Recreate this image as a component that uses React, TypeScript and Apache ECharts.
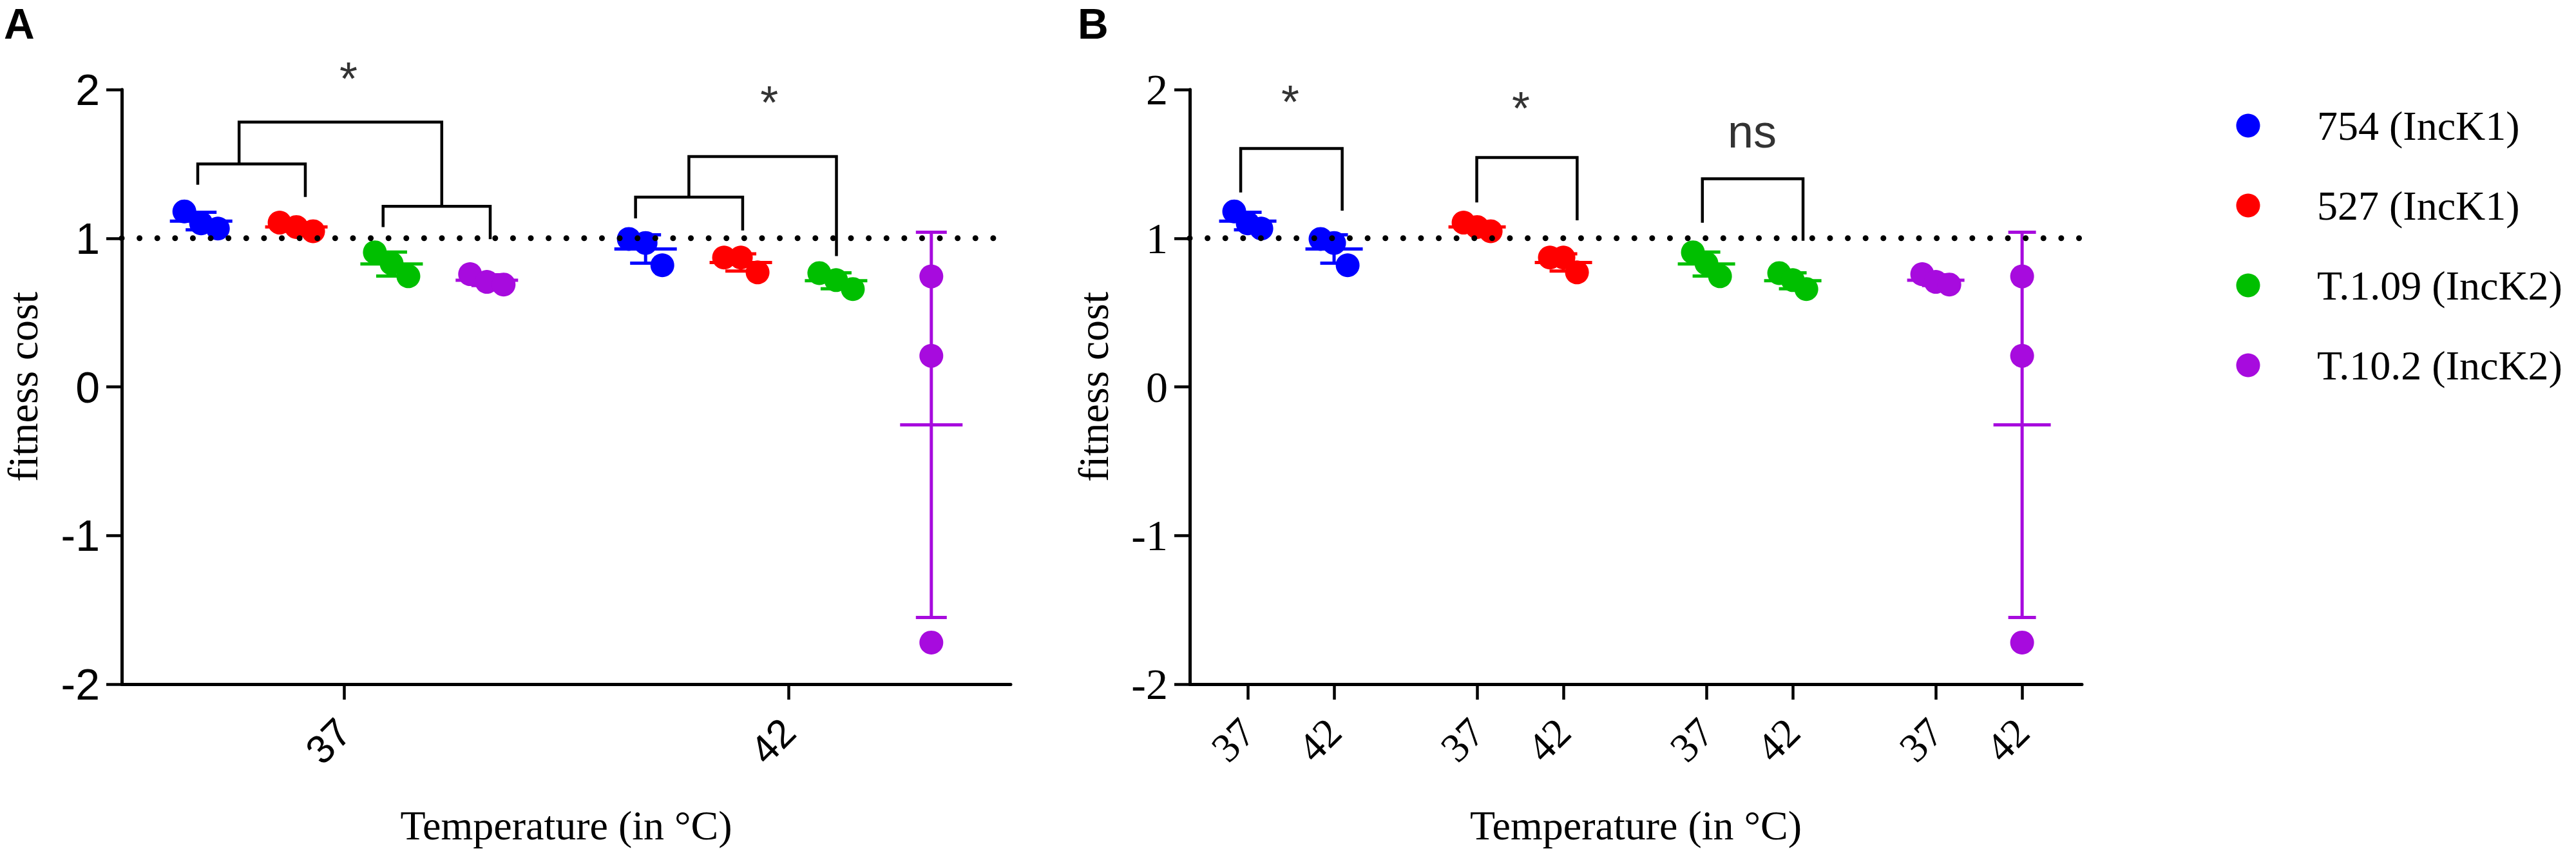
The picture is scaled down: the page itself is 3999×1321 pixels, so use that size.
import React, { useEffect, useRef } from "react";
import * as echarts from "echarts";

// ---------- data ----------
const temperatures = ["37", "42"];
const strains = ["754 (IncK1)", "527 (IncK1)", "T.1.09 (IncK2)", "T.10.2 (IncK2)"];
const strainColors = ["#0000FF", "#FF0000", "#00BF00", "#A70BDE"];

// fitness cost replicates (3 per strain and temperature)
const strain754_37 = [1.18, 1.1, 1.065];
const strain754_42 = [0.995, 0.968, 0.818];
const strain527_37 = [1.105, 1.075, 1.047];
const strain527_42 = [0.87, 0.87, 0.77];
const strainT109_37 = [0.905, 0.83, 0.744];
const strainT109_42 = [0.765, 0.718, 0.658];
const strainT102_37 = [0.758, 0.706, 0.688];
const strainT102_42 = [0.743, 0.209, -1.72];

const replicates = [
  [strain754_37, strain754_42],
  [strain527_37, strain527_42],
  [strainT109_37, strainT109_42],
  [strainT102_37, strainT102_42],
];

const yTickValues = [-2, -1, 0, 1, 2];
const referenceValue = 1;

// significance brackets in axis units: [xLeft, xRight, yTop, yLeftFoot, yRightFoot]
const bracketsA = [
  [-0.329, -0.087, 1.5, 1.36, 1.277],
  [0.088, 0.329, 1.215, 1.075, 0.994],
  [-0.236, 0.22, 1.781, 1.5, 1.215],
  [0.656, 0.897, 1.276, 1.133, 1.052],
  [0.776, 1.108, 1.549, 1.276, 0.88],
];
const bracketsB = [
  [-0.082, 1.094, 1.603, 1.308, 1.185],
  [2.653, 3.816, 1.543, 1.24, 1.12],
  [5.267, 6.433, 1.4, 1.104, 0.983],
];
const significanceA: [string, number, number][] = [
  ["*", 0.01, 2.073],
  ["*", 0.957, 1.912],
];
const significanceB: [string, number, number][] = [
  ["*", 0.493, 1.917],
  ["*", 3.164, 1.874],
  ["ns", 5.843, 1.72],
];

// ---------- helpers ----------
const SANS = '"Liberation Sans", Arial, Helvetica, sans-serif';
const SERIF = '"Liberation Serif", "Times New Roman", Times, serif';

const mean = (a: number[]) => a.reduce((s, v) => s + v, 0) / a.length;
const sd = (a: number[]) => {
  const m = mean(a);
  return Math.sqrt(a.reduce((s, v) => s + (v - m) * (v - m), 0) / (a.length - 1));
};

const groupStepB = 2.657;
const tickPosB: number[] = [];
strains.forEach((_, s) => temperatures.forEach((__, t) => tickPosB.push(s * groupStepB + t)));

const panels = [
  {
    grid: { left: 189, top: 139, width: 1380, height: 923 },
    xMin: -0.5,
    xMax: 1.5,
    ticks: [0, 1],
    label: (v: number) => temperatures[Math.round(v)],
    pos: (s: number, t: number) => t + (s - 1.5) * 0.2143,
    jitter: 0.0377,
    meanW: 97,
    capW: 48,
    font: SANS,
    xLabelSize: 62,
    yLabelSize: 68,
    yNameGap: 121,
    brackets: bracketsA,
    marks: significanceA,
  },
  {
    grid: { left: 1847, top: 139, width: 1385, height: 923 },
    xMin: -0.672,
    xMax: 9.664,
    ticks: tickPosB,
    label: (v: number) => {
      let best = 0;
      tickPosB.forEach((p, i) => {
        if (Math.abs(p - v) < Math.abs(tickPosB[best] - v)) best = i;
      });
      return temperatures[best % 2];
    },
    pos: (s: number, t: number) => s * groupStepB + t,
    jitter: 0.157,
    meanW: 89,
    capW: 43,
    font: SERIF,
    xLabelSize: 64,
    yLabelSize: 68,
    yNameGap: 117,
    brackets: bracketsB,
    marks: significanceB,
  },
];

// legend layout (pixels)
const legendLayout = { markerX: 3490, textX: 3597, firstY: 195, stepY: 124, radius: 18.5, fontSize: 64 };

function errRenderer(color: string, meanW: number, capW: number) {
  return (params: any, api: any) => {
    const x = api.value(0);
    const m = api.value(1);
    const d = api.value(2);
    const pm = api.coord([x, m]);
    const pt = api.coord([x, m + d]);
    const pb = api.coord([x, m - d]);
    const style = { stroke: color, lineWidth: 5, fill: "none" };
    return {
      type: "group",
      children: [
        { type: "line", shape: { x1: pm[0], y1: pt[1], x2: pm[0], y2: pb[1] }, style },
        { type: "line", shape: { x1: pm[0] - capW / 2, y1: pt[1], x2: pm[0] + capW / 2, y2: pt[1] }, style },
        { type: "line", shape: { x1: pm[0] - capW / 2, y1: pb[1], x2: pm[0] + capW / 2, y2: pb[1] }, style },
        { type: "line", shape: { x1: pm[0] - meanW / 2, y1: pm[1], x2: pm[0] + meanW / 2, y2: pm[1] }, style },
      ],
    };
  };
}

function buildOption() {
  const grids: any[] = [];
  const xAxes: any[] = [];
  const yAxes: any[] = [];
  const series: any[] = [];

  panels.forEach((p, pi) => {
    grids.push({ ...p.grid, containLabel: false, outerBoundsMode: "none" });
    xAxes.push({
      type: "value",
      gridIndex: pi,
      min: p.xMin,
      max: p.xMax,
      axisLine: { show: true, onZero: false, lineStyle: { color: "#000", width: 5 } },
      axisTick: { show: true, customValues: p.ticks, length: 24, lineStyle: { color: "#000", width: 4.5 } },
      axisLabel: {
        show: true,
        customValues: p.ticks,
        formatter: (v: number) => p.label(v),
        rotate: 45,
        margin: 64,
        fontFamily: p.font,
        fontSize: p.xLabelSize,
        color: "#000",
      },
      splitLine: { show: false },
      name: "Temperature (in °C)",
      nameLocation: "middle",
      nameGap: 187,
      nameTextStyle: { fontFamily: SERIF, fontSize: 64, color: "#000" },
    });
    yAxes.push({
      type: "value",
      gridIndex: pi,
      min: yTickValues[0],
      max: yTickValues[yTickValues.length - 1],
      interval: 1,
      axisLine: { show: true, onZero: false, lineStyle: { color: "#000", width: 5 } },
      axisTick: { show: true, length: 24, lineStyle: { color: "#000", width: 4.5 } },
      axisLabel: {
        margin: 34,
        fontFamily: p.font,
        fontSize: p.yLabelSize,
        color: "#000",
      },
      splitLine: { show: false },
      name: "fitness cost",
      nameLocation: "middle",
      nameRotate: 90,
      nameGap: p.yNameGap,
      nameTextStyle: { fontFamily: SERIF, fontSize: 66, color: "#000" },
    });

    // error bars (mean ± SD) per strain
    strains.forEach((name, s) => {
      const errData = temperatures.map((_, t) => {
        const vals = replicates[s][t];
        return [p.pos(s, t), mean(vals), sd(vals)];
      });
      series.push({
        type: "custom",
        name: "sd-" + name + "-" + pi,
        xAxisIndex: pi,
        yAxisIndex: pi,
        data: errData,
        renderItem: errRenderer(strainColors[s], p.meanW, p.capW),
        silent: true,
        z: 2,
      });
    });

    // replicate points
    strains.forEach((name, s) => {
      const pts: number[][] = [];
      temperatures.forEach((_, t) => {
        const vals = replicates[s][t];
        const spread = Math.max(...vals) - Math.min(...vals);
        const jit = spread < 0.5 ? p.jitter : 0;
        const order = vals.map((v, i) => i).sort((a, b) => vals[b] - vals[a]);
        order.forEach((idx, rank) => {
          pts.push([p.pos(s, t) + (rank - 1) * jit, vals[idx]]);
        });
      });
      series.push({
        type: "scatter",
        name,
        xAxisIndex: pi,
        yAxisIndex: pi,
        data: pts,
        symbol: "circle",
        symbolSize: 37,
        itemStyle: { color: strainColors[s], opacity: 1 },
        clip: false,
        z: 3,
      });
    });

    // significance brackets
    p.brackets.forEach((b, bi) => {
      series.push({
        type: "line",
        name: "bracket-" + pi + "-" + bi,
        xAxisIndex: pi,
        yAxisIndex: pi,
        data: [
          [b[0], b[3]],
          [b[0], b[2]],
          [b[1], b[2]],
          [b[1], b[4]],
        ],
        symbol: "none",
        silent: true,
        lineStyle: { color: "#000", width: 4.5, cap: "butt", join: "miter" },
        z: 4,
      });
    });

    // reference line at fitness cost = 1
    series.push({
      type: "line",
      name: "ref-" + pi,
      xAxisIndex: pi,
      yAxisIndex: pi,
      data: [
        [p.xMin, referenceValue],
        [p.xMax, referenceValue],
      ],
      symbol: "none",
      silent: true,
      lineStyle: { color: "#000", width: 9, type: [0.01, 27.6], cap: "round" },
      z: 5,
    });

    // significance labels
    series.push({
      type: "scatter",
      name: "sig-" + pi,
      xAxisIndex: pi,
      yAxisIndex: pi,
      data: p.marks.map((m) => ({ value: [m[1], m[2]], label: { formatter: m[0] } })),
      symbol: "circle",
      symbolSize: 1,
      itemStyle: { color: "rgba(0,0,0,0)" },
      clip: false,
      silent: true,
      label: {
        show: true,
        position: "inside",
        fontFamily: SANS,
        fontSize: 72,
        color: "#000",
      },
      z: 6,
    });
  });

  // legend drawn as graphic items (marker + label per strain)
  const legendItems: any[] = [];
  strains.forEach((name, s) => {
    const cy = legendLayout.firstY + s * legendLayout.stepY;
    legendItems.push({
      type: "circle",
      shape: { cx: legendLayout.markerX, cy, r: legendLayout.radius },
      style: { fill: strainColors[s] },
      silent: true,
    });
    legendItems.push({
      type: "text",
      x: legendLayout.textX,
      y: cy,
      style: {
        text: name,
        fontFamily: SERIF,
        fontSize: legendLayout.fontSize,
        fill: "#000",
        align: "left",
        verticalAlign: "middle",
      },
      silent: true,
    });
  });

  return {
    animation: false,
    backgroundColor: "#ffffff",
    grid: grids,
    xAxis: xAxes,
    yAxis: yAxes,
    graphic: [
      {
        type: "text",
        x: 6,
        y: 4,
        style: { text: "A", fontFamily: SANS, fontWeight: "bold", fontSize: 66, fill: "#000", verticalAlign: "top" },
      },
      {
        type: "text",
        x: 1673,
        y: 4,
        style: { text: "B", fontFamily: SANS, fontWeight: "bold", fontSize: 66, fill: "#000", verticalAlign: "top" },
      },
      ...legendItems,
    ],
    series,
  };
}

export default function App() {
  const ref = useRef<HTMLDivElement>(null);
  useEffect(() => {
    if (!ref.current) return;
    const chart = echarts.init(ref.current, null, { renderer: "svg" });
    chart.setOption(buildOption() as any);
    return () => chart.dispose();
  }, []);
  return (
    <div
      ref={ref}
      style={{ position: "absolute", left: 0, top: 0, width: "3999px", height: "1321px", background: "#fff" }}
    />
  );
}
